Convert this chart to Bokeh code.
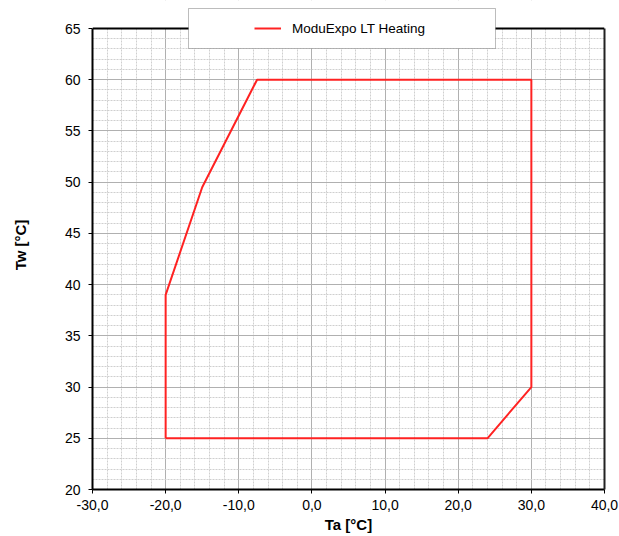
from bokeh.plotting import figure
from bokeh.models import (FixedTicker, Legend, LegendItem, BoxAnnotation, Range1d,
                          LinearAxis, Span)
from bokeh.embed import file_html
from bokeh.resources import INLINE

# Data (operating envelope)
ta = [-20, -20, -15, -7.5, 30, 30, 24, -20]
tw = [25, 39, 49.5, 60, 60, 30, 25, 25]
series_name = "ModuExpo LT Heating"

x_ticks = [-30, -20, -10, 0, 10, 20, 30, 40]
x_labels = ["-30,0", "-20,0", "-10,0", "0,0", "10,0", "20,0", "30,0", "40,0"]
x_minor = [v for v in range(-30, 41, 2)]
y_ticks = [20, 25, 30, 35, 40, 45, 50, 55, 60, 65]
y_labels = [str(v) for v in y_ticks]
y_minor = [v for v in range(20, 66, 1)]
x_lo, x_hi = -30, 40
y_lo, y_hi = 20, 65

FONT = "Liberation Sans"

# frame spans canvas y 0..489; 65 sits 28 px below the frame top
frame_h = 489
top_gap = 28
y_top = y_hi + (y_hi - y_lo) * top_gap / (frame_h - top_gap)

p = figure(width=619, height=536, output_backend="svg", toolbar_location=None,
           x_range=Range1d(x_lo, x_hi), y_range=Range1d(y_lo, y_top),
           min_border_left=92, min_border_right=15, min_border_top=0,
           min_border_bottom=47, background_fill_color="white",
           border_fill_color="white")
p.outline_line_color = None

xt = FixedTicker(ticks=x_ticks, minor_ticks=x_minor)
yt = FixedTicker(ticks=y_ticks, minor_ticks=y_minor)
p.xaxis.ticker = xt
p.yaxis.ticker = yt
p.xgrid.ticker = xt
p.ygrid.ticker = yt
p.yaxis.bounds = (y_lo, y_hi)
p.ygrid.bounds = (y_lo, y_hi)
p.xaxis.major_label_overrides = dict(zip(x_ticks, x_labels))
p.yaxis.major_label_overrides = dict(zip(y_ticks, y_labels))

for ax in (p.xaxis[0], p.yaxis[0]):
    ax.axis_line_color = "black"
    ax.axis_line_width = 2
    ax.major_tick_line_color = "black"
    ax.major_tick_line_width = 1
    ax.major_tick_out = 4
    ax.major_tick_in = 0
    ax.minor_tick_line_color = None
    ax.major_label_text_font = FONT
    ax.major_label_text_font_size = "14px"
    ax.major_label_text_color = "black"
    ax.axis_label_text_font = FONT
    ax.axis_label_text_font_size = "15px"
    ax.axis_label_text_font_style = "bold"
    ax.axis_label_text_color = "black"

p.xaxis.axis_label = "Ta [°C]"
p.yaxis.axis_label = "Tw [°C]"
p.xaxis.major_label_standoff = 6
p.xaxis.axis_label_standoff = 3
p.yaxis.major_label_standoff = 8
p.yaxis.axis_label_standoff = 33

# right border as a tickless axis
rax = LinearAxis(ticker=FixedTicker(ticks=[]), bounds=(y_lo, y_hi),
                 axis_line_color="#222222", axis_line_width=2,
                 major_tick_line_color=None, minor_tick_line_color=None,
                 major_label_text_font_size="0px")
p.add_layout(rax, "right")

for g in (p.xgrid[0], p.ygrid[0]):
    g.grid_line_color = "#b0b0b0"
    g.grid_line_width = 1
    g.minor_grid_line_color = "#cfcfcf"
    g.minor_grid_line_width = 1
    g.minor_grid_line_dash = "2 1"

r = p.line(ta, tw, line_color="#ff2222", line_width=2)

# blank band above the plot area
cover = BoxAnnotation(bottom=y_hi, fill_color="white", fill_alpha=1.0,
                      line_color=None)
p.add_layout(cover)
p.add_layout(Span(location=y_hi, dimension="width", line_color="black",
                  line_width=2))

box = BoxAnnotation(left=96, right=403, bottom=441, top=481,
                    left_units="screen", right_units="screen",
                    bottom_units="screen", top_units="screen",
                    fill_color="white", fill_alpha=1.0,
                    line_color="#222222", line_width=1)
p.add_layout(box)

legend = Legend(items=[LegendItem(label=series_name, renderers=[r])],
                location=(162, 451), padding=0, margin=0, spacing=0,
                glyph_width=27, glyph_height=20, label_height=20,
                label_standoff=11, border_line_color=None,
                background_fill_alpha=0.0,
                label_text_font=FONT, label_text_font_size="13.5px",
                label_text_color="black")
p.add_layout(legend)

open("out.html", "w").write(file_html(p, INLINE))
